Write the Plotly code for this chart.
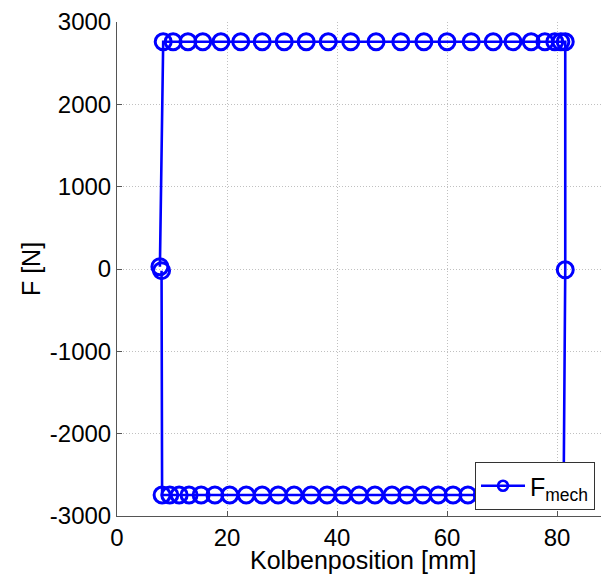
import plotly.graph_objects as go

# Piston position [mm] and mechanical force [N] around one stroke cycle
x_left_mid = [7.8]
F_left_mid = [28]

x_top = [8.4, 10.2, 12.9, 15.6, 18.9, 22.5, 26.4, 30.4, 34.4, 38.4, 42.5, 47.1,
         51.6, 55.8, 60.0, 64.4, 68.4, 72.0, 75.3, 77.8, 79.6, 80.7, 81.5]
F_top = [2760] * len(x_top)

x_right_mid = [81.5]
F_right_mid = [-10]

x_bottom = [81.2, 80.5, 79.5, 78.0, 76.0, 73.8, 71.5, 68.9, 66.4, 63.8, 61.1,
            58.4, 55.6, 52.7, 50.0, 46.9, 44.0, 41.1, 38.2, 35.3, 32.2, 29.3,
            26.4, 23.5, 20.5, 17.8, 15.3, 13.1, 11.3, 9.6, 8.2]
F_bottom = [-2745] * len(x_bottom)

x_left_end = [8.1]
F_left_end = [-20]

x_pos = x_left_mid + x_top + x_right_mid + x_bottom + x_left_end
F_mech = F_left_mid + F_top + F_right_mid + F_bottom + F_left_end

x_ticks = [0, 20, 40, 60, 80]
y_ticks = [-3000, -2000, -1000, 0, 1000, 2000, 3000]
y_tick_labels = ["-3000", "-2000", "-1000", "0", "1000", "2000", "3000"]

BLUE = "rgb(0,0,255)"
FONT = "Liberation Sans, Arial, sans-serif"

fig = go.Figure()
fig.add_trace(go.Scatter(
    x=x_pos, y=F_mech, mode="lines+markers", showlegend=False,
    line=dict(color=BLUE, width=2.6),
    marker=dict(symbol="circle-open", size=16, color=BLUE, line=dict(width=3, color=BLUE)),
))
# legend entry with a smaller symbol
fig.add_trace(go.Scatter(
    x=[None], y=[None], mode="lines+markers", name="F<sub>mech</sub>",
    line=dict(color=BLUE, width=2.6),
    marker=dict(symbol="circle-open", size=10, color=BLUE, line=dict(width=2.6, color=BLUE)),
))

axis_common = dict(
    showline=True, linecolor="#555", linewidth=1, mirror=False,
    ticks="inside", ticklen=5, tickcolor="#555", tickwidth=1,
    showgrid=True, gridcolor="#c0c0c0", griddash="1px,2px", gridwidth=1,
    zeroline=False, tickfont=dict(family=FONT, size=24, color="black"),
)

fig.update_layout(
    width=601, height=577,
    margin=dict(l=117, r=0, t=22, b=61, autoexpand=False),
    paper_bgcolor="white", plot_bgcolor="white",
    xaxis=dict(range=[0, 88.0], tickvals=x_ticks, **axis_common),
    yaxis=dict(range=[-3000, 3000], tickvals=y_ticks, ticktext=y_tick_labels,
               title=dict(text="F [N]", font=dict(family=FONT, size=25, color="black"), standoff=2),
               **axis_common),
    legend=dict(x=0.7397, y=0.1093, xanchor="left", yanchor="top",
                bgcolor="white", bordercolor="#333", borderwidth=1,
                font=dict(family=FONT, size=25, color="black"),
                itemwidth=44),
    annotations=[dict(text="Kolbenposition [mm]", xref="paper", yref="paper",
                      x=0.509, y=-0.089, xanchor="center", yanchor="middle",
                      showarrow=False, font=dict(family=FONT, size=25, color="black"))],
)

fig.write_html("out.html")
